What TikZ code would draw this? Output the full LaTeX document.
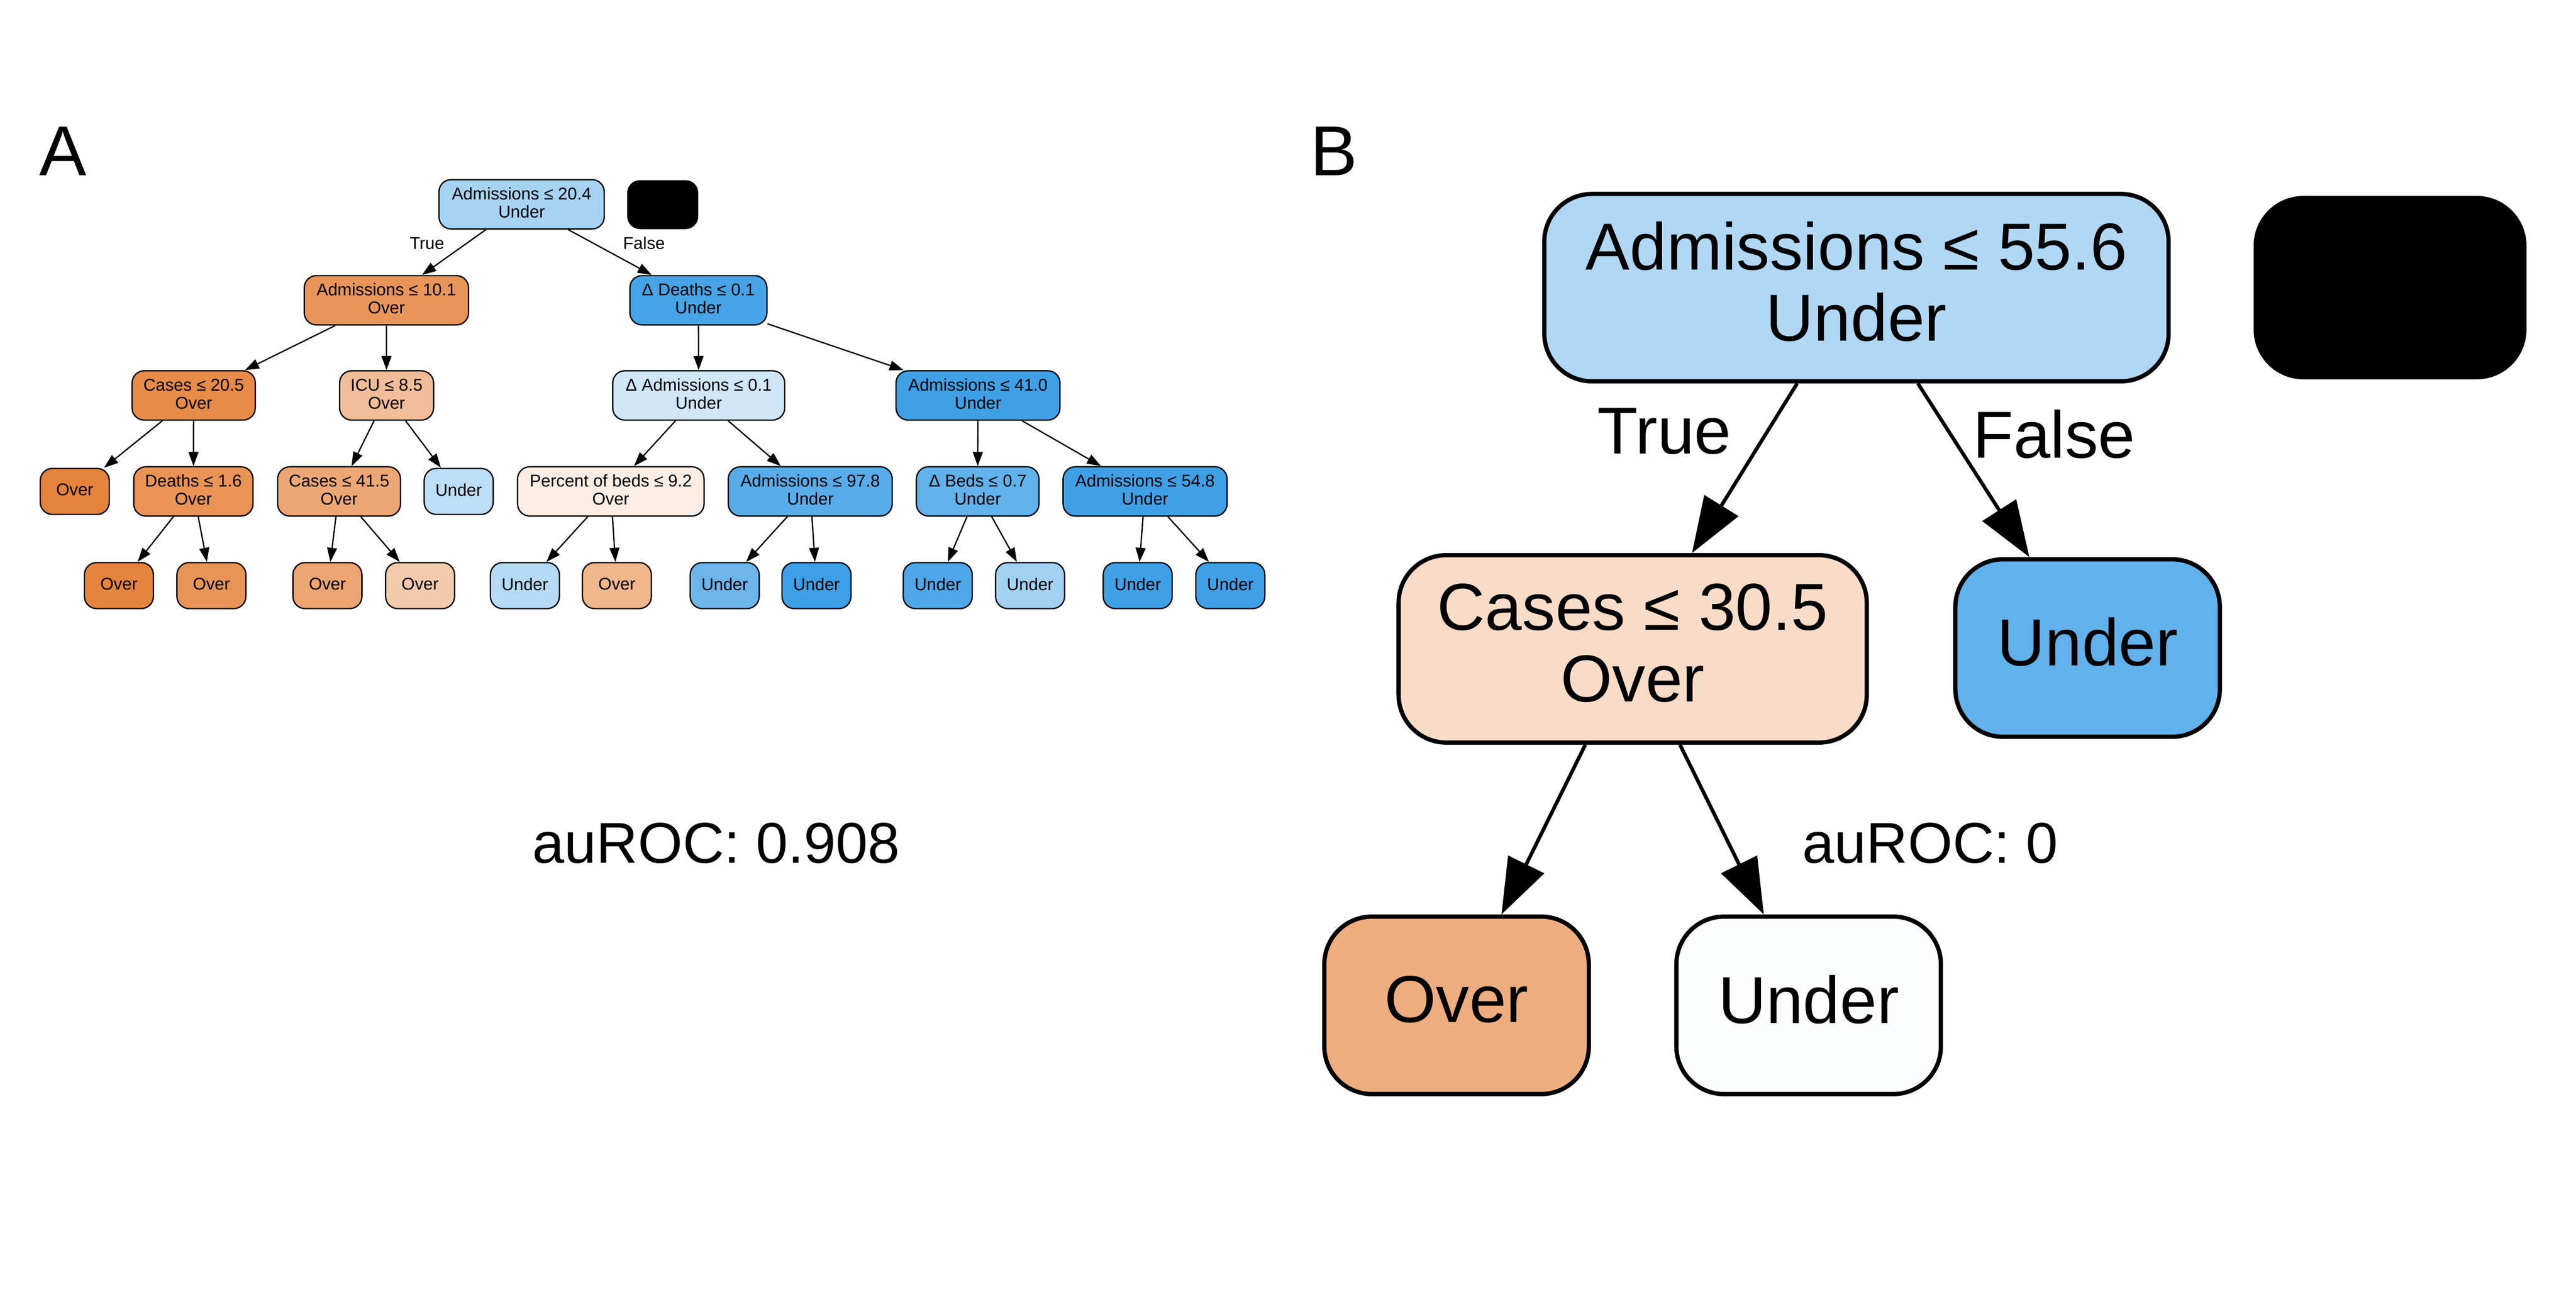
\documentclass[tikz,border=0pt]{standalone}
\usepackage{fontspec}
\setmainfont{Liberation Sans}
\usetikzlibrary{arrows.meta}
\definecolor{cor}{HTML}{E58139}
\definecolor{cbl}{HTML}{399DE5}
\begin{document}
\begin{tikzpicture}[x=0.5pt,y=-0.5pt,
  wd/.style={minimum width={#1*0.5pt}},
  an/.style={draw=black, line width=0.4pt, rounded corners=3.7pt, minimum height=15pt,
    inner sep=0pt, align=center, font=\fontsize{5.2}{5.5}\selectfont, text depth=1pt},
  al/.style={an, minimum height=14pt, wd=42},
  bn/.style={draw=black, line width=1.3pt, rounded corners=14.5pt, minimum height=57pt,
    inner sep=0pt, align=center, font=\fontsize{20.2}{21.75}\selectfont, text depth=3.8pt},
  bl/.style={bn, minimum height=54pt, wd=161},
  ae/.style={line width=0.4pt, -{Triangle[length=4.3pt,width=3pt]}},
  be/.style={line width=1.1pt, -{Triangle[length=17pt,width=12pt]}},
  alab/.style={anchor=base, inner sep=0pt, font=\fontsize{5.2}{5.5}\selectfont},
  blab/.style={anchor=base, inner sep=0pt, font=\fontsize{20.2}{21.75}\selectfont},
  roc/.style={anchor=base, inner sep=0pt, font=\fontsize{17.5}{20}\selectfont},
  panel/.style={anchor=base, inner sep=0pt, font=\fontsize{21.5}{24}\selectfont}
]
\useasboundingbox (0,0) rectangle (1568,784);

% ---------- Panel A ----------
\node[panel] (labA) at (38.2,106.9) {A};
\node[an, wd=100.6, fill=cbl!45] (a0) at (317.5,124.3) {Admissions ≤ 20.4\\Under};
\node[an, wd=42.5, minimum height=14.5pt, fill=black] (ak) at (403.4,124.5) {};
\node[an, wd=100, fill=cor!84] (a1) at (235.2,182.7) {Admissions ≤ 10.1\\Over};
\node[an, wd=83.4, fill=cbl!93] (a2) at (425.1,182.7) {Δ Deaths ≤ 0.1\\Under};
\node[an, wd=75, fill=cor!92] (a3) at (117.9,240.6) {Cases ≤ 20.5\\Over};
\node[an, wd=57.2, fill=cor!52] (a4) at (235.3,240.6) {ICU ≤ 8.5\\Over};
\node[an, wd=104.7, fill=cbl!24] (a5) at (425.3,240.6) {Δ Admissions ≤ 0.1\\Under};
\node[an, wd=99.8, fill=cbl!97] (a6) at (595.3,240.6) {Admissions ≤ 41.0\\Under};
\node[al, fill=cor!99] (a7) at (45.5,299) {Over};
\node[an, wd=72.6, fill=cor!86] (a8) at (117.7,299) {Deaths ≤ 1.6\\Over};
\node[an, wd=74.8, fill=cor!70] (a9) at (206.4,299) {Cases ≤ 41.5\\Over};
\node[al, fill=cbl!34] (a10) at (279.2,299) {Under};
\node[an, wd=113.5, fill=cor!14] (a11) at (371.8,299) {Percent of beds ≤ 9.2\\Over};
\node[an, wd=99.8, fill=cbl!85] (a12) at (493.2,299) {Admissions ≤ 97.8\\Under};
\node[an, wd=74.6, fill=cbl!80] (a13) at (595.1,299) {Δ Beds ≤ 0.7\\Under};
\node[an, wd=99.8, fill=cbl!97] (a14) at (697,299) {Admissions ≤ 54.8\\Under};
\node[al, fill=cor!98] (l1) at (72.4,356.3) {Over};
\node[al, fill=cor!85] (l2) at (128.7,356.3) {Over};
\node[al, fill=cor!72] (l3) at (199.3,356.3) {Over};
\node[al, fill=cor!42] (l4) at (255.7,356.3) {Over};
\node[al, fill=cbl!38] (l5) at (319.5,356.3) {Under};
\node[al, fill=cor!58] (l6) at (375.5,356.3) {Over};
\node[al, fill=cbl!75] (l7) at (441.1,356.3) {Under};
\node[al, fill=cbl!98] (l8) at (497,356.3) {Under};
\node[al, fill=cbl!90] (l9) at (570.8,356.3) {Under};
\node[al, fill=cbl!47] (l10) at (627,356.3) {Under};
\node[al, fill=cbl!97] (l11) at (692.5,356.3) {Under};
\node[al, fill=cbl!97] (l12) at (748.9,356.3) {Under};
\node[alab] (atrue) at (259.9,151.7) {True};
\node[alab] (afalse) at (392,151.5) {False};
\draw[ae] (a0) -- (a1);
\draw[ae] (a0) -- (a2);
\draw[ae] (a1) -- (a3);
\draw[ae] (a1) -- (a4);
\draw[ae] (a2) -- (a5);
\draw[ae] (a2) -- (a6);
\draw[ae] (a3) -- (a7);
\draw[ae] (a3) -- (a8);
\draw[ae] (a4) -- (a9);
\draw[ae] (a4) -- (a10);
\draw[ae] (a5) -- (a11);
\draw[ae] (a5) -- (a12);
\draw[ae] (a6) -- (a13);
\draw[ae] (a6) -- (a14);
\draw[ae] (a8) -- (l1);
\draw[ae] (a8) -- (l2);
\draw[ae] (a9) -- (l3);
\draw[ae] (a9) -- (l4);
\draw[ae] (a11) -- (l5);
\draw[ae] (a11) -- (l6);
\draw[ae] (a12) -- (l7);
\draw[ae] (a12) -- (l8);
\draw[ae] (a13) -- (l9);
\draw[ae] (a13) -- (l10);
\draw[ae] (a14) -- (l11);
\draw[ae] (a14) -- (l12);
\node[roc] (rocA) at (436,525) {auROC: 0.908};

% ---------- Panel B ----------
\node[panel] (labB) at (812,106.9) {B};
\node[bn, wd=380, fill=cbl!40] (b0) at (1130,175) {Admissions ≤ 55.6\\Under};
\node[bn, wd=163.5, minimum height=54.5pt, fill=black] (bk) at (1454.8,175) {};
\node[bn, wd=285, fill=cor!28] (b1) at (993.8,394.8) {Cases ≤ 30.5\\Over};
\node[bl, fill=cbl!80] (b2) at (1270.7,394.3) {Under};
\node[bl, fill=cor!65] (b3) at (886.6,611.7) {Over};
\node[bl, fill=cbl!2] (b4) at (1100.9,611.7) {Under};
\node[blab] (btrue) at (1013,276.2) {True};
\node[blab] (bfalse) at (1250.3,278.7) {False};
\draw[be] (b0) -- (b1);
\draw[be] (b0) -- (b2);
\draw[be] (b1) -- (b3);
\draw[be] (b1) -- (b4);
\node[roc] (rocB) at (1175,525) {auROC: 0};
\end{tikzpicture}
\end{document}
